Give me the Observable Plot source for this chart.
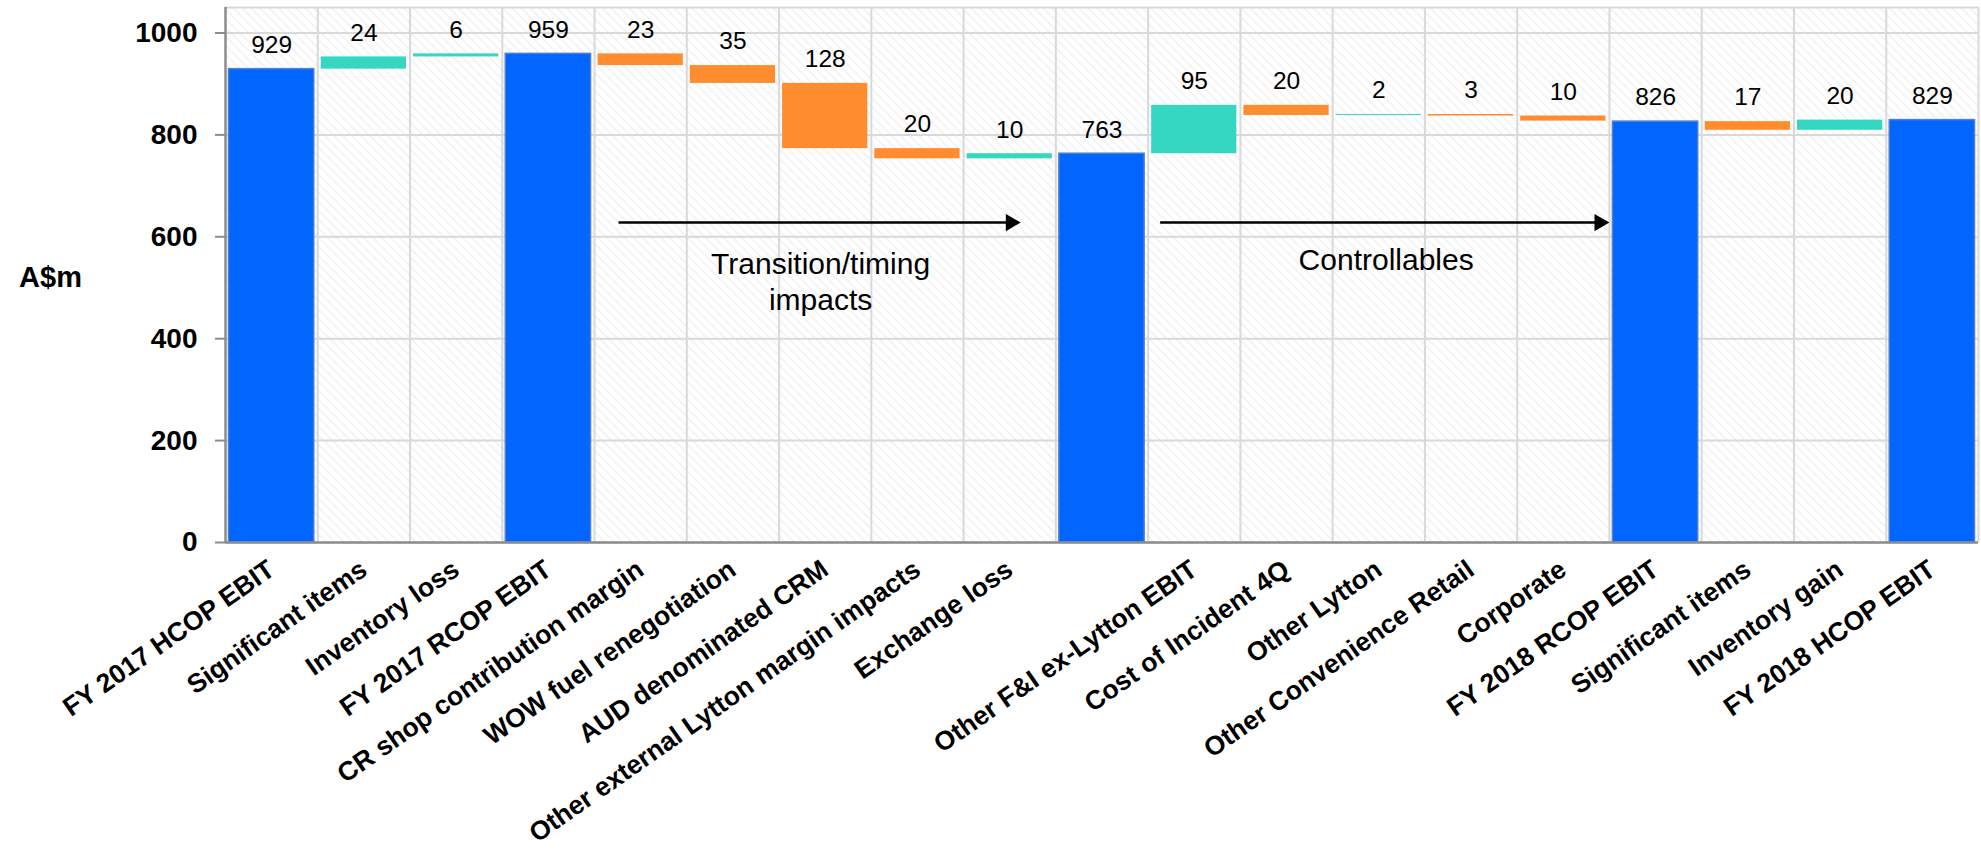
<!DOCTYPE html>
<html><head><meta charset="utf-8">
<script src="https://cdn.jsdelivr.net/npm/d3@7"></script>
<script src="https://cdn.jsdelivr.net/npm/@observablehq/plot@0.6"></script>
<style>body{margin:0;background:#fff} svg{display:block}</style>
</head><body><div id="chart"></div>
<script>
// ---- data ----
const categories = [
  "FY 2017 HCOP EBIT", "Significant items", "Inventory loss", "FY 2017 RCOP EBIT",
  "CR shop contribution margin", "WOW fuel renegotiation", "AUD denominated CRM",
  "Other external Lytton margin impacts", "Exchange loss", "",
  "Other F&I ex-Lytton EBIT", "Cost of Incident 4Q", "Other Lytton",
  "Other Convenience Retail", "Corporate", "FY 2018 RCOP EBIT",
  "Significant items", "Inventory gain", "FY 2018 HCOP EBIT"
];
const values = [929, 24, 6, 959, 23, 35, 128, 20, 10, 763, 95, 20, 2, 3, 10, 826, 17, 20, 829];
const kinds = ["total","up","up","total","down","down","down","down","up","total",
               "up","down","up","down","down","total","down","up","total"];
const yTicks = [0, 200, 400, 600, 800, 1000];
const groupLabels = ["Transition/timing\nimpacts", "Controllables"];

// ---- build waterfall table ----
let run = 0;
const rows = values.map((v, i) => {
  const k = kinds[i];
  let y1, y2;
  if (k === "total") { y1 = 0; y2 = v; run = v; }
  else if (k === "up") { y1 = run; y2 = run + v; run = y2; }
  else { y1 = run; y2 = run - v; run = y2; }
  return {i, label: categories[i], value: v, kind: k, y1, y2, top: Math.max(y1, y2)};
});
const colors = {total: "#0066ff", up: "#36d7c0", down: "#ff8c2e"};
const font = "'Liberation Sans', Arial, Helvetica, sans-serif";

const plot = Plot.plot({
  width: 1981,
  height: 858,
  marginLeft: 225,
  marginRight: 3,
  marginTop: 7,
  marginBottom: 316,
  style: {fontFamily: font, background: "#fff", overflow: "visible"},
  x: {type: "linear", domain: [0, 19], axis: null},
  y: {domain: [0, 1050], axis: null},
  marks: [
    Plot.frame({fill: "url(#hatch)", stroke: null}),
    Plot.ruleY(yTicks.concat([1050]), {stroke: "#d9d9d9", strokeWidth: 2}),
    Plot.ruleX(d3.range(1, 20), {stroke: "#d9d9d9", strokeWidth: 2}),
    Plot.rect(rows, {
      x1: "i", x2: d => d.i + 1, y1: "y1", y2: "y2",
      insetLeft: 3.5, insetRight: 3.5,
      fill: d => colors[d.kind],
      stroke: d => d.kind === "total" ? "#4f7fcf" : "none",
      strokeWidth: 1.5
    }),
    Plot.text(rows, {
      x: d => d.i + 0.5, y: "top", text: d => String(d.value),
      dy: -24, fontSize: 24.5, fill: "#000"
    }),
    // axes
    Plot.ruleX([0], {stroke: "#8c8c8c", strokeWidth: 2.5}),
    Plot.ruleY([0], {stroke: "#8c8c8c", strokeWidth: 2.5}),
    Plot.axisY({
      ticks: yTicks, tickFormat: d => String(d), tickSize: 10, tickPadding: 18,
      stroke: "#8c8c8c", strokeWidth: 2,
      fontSize: 28, fontWeight: "bold", label: null, fill: "#000"
    }),
    Plot.axisX({
      ticks: d3.range(19).map(i => i + 0.5),
      tickFormat: t => categories[Math.floor(t)],
      tickRotate: -35, tickSize: 0, tickPadding: 24,
      fontSize: 26.5, fontWeight: "bold", label: null, fill: "#000"
    }),
    Plot.text(["A$m"], {x: 0, y: 520, dx: -175, fontSize: 29, fontWeight: "bold", fill: "#000"}),
    // arrows
    Plot.link([{x1: 4.26, x2: 8.52}, {x1: 10.13, x2: 14.9}], {
      x1: "x1", x2: "x2", y1: 628, y2: 628, stroke: "#000", strokeWidth: 2.5
    }),
    Plot.dot([{x: 8.62}, {x: 15.0}], {
      x: "x", y: 628, symbol: "triangle", rotate: 90, r: 6.4, dx: -10,
      fill: "#000", stroke: "none"
    }),
    Plot.text([groupLabels[0]], {x: 6.45, y: 577, lineAnchor: "top", fontSize: 30, lineHeight: 1.2, fill: "#000"}),
    Plot.text([groupLabels[1]], {x: 12.58, y: 577, lineAnchor: "top", fontSize: 30, fill: "#000"})
  ]
});

// hatch pattern
const ns = "http://www.w3.org/2000/svg";
const defs = document.createElementNS(ns, "defs");
defs.innerHTML = `<pattern id="hatch" patternUnits="userSpaceOnUse" width="9" height="9">
  <rect width="9" height="9" fill="#ffffff"/>
  <path d="M-2,-2 L11,11 M-6.5,2.5 L2.5,11.5 M2.5,-6.5 L11.5,2.5" stroke="#ececec" stroke-width="1.2"/>
</pattern>`;
plot.insertBefore(defs, plot.firstChild);
document.getElementById("chart").appendChild(plot);
</script>
</body></html>
